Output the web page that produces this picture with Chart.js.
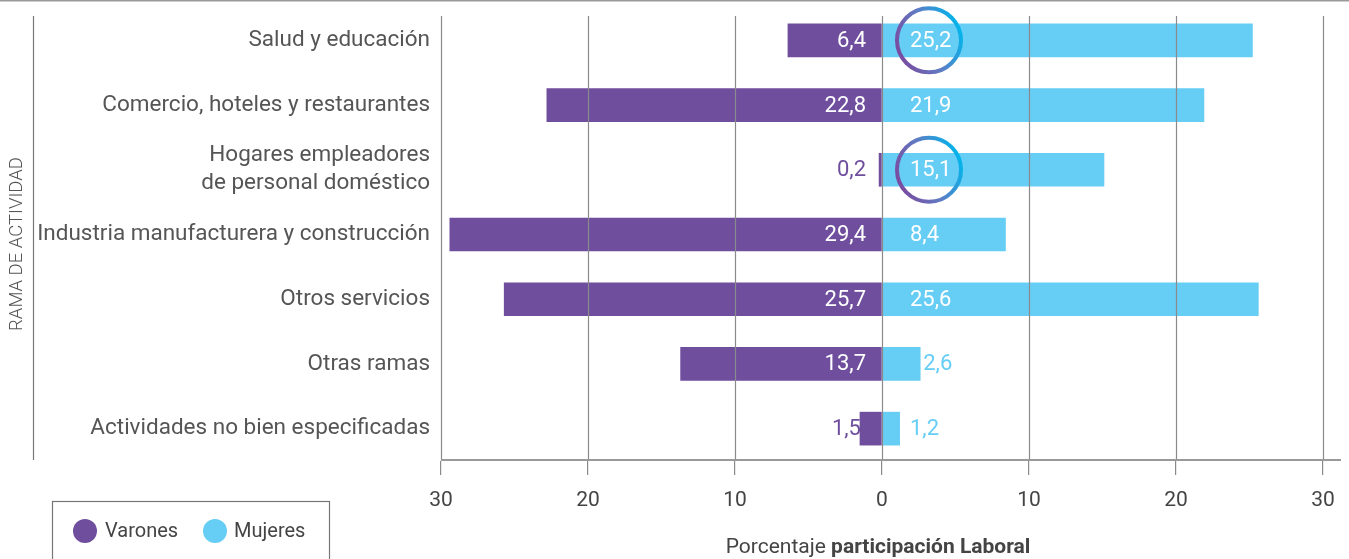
<!DOCTYPE html>
<html><head><meta charset="utf-8">
<script src="https://cdn.jsdelivr.net/npm/chart.js@4"></script>
<style>html,body{margin:0;padding:0;background:#fff;overflow:hidden}#wrap{position:relative;width:1349px;height:559px}</style>
</head><body><div id="wrap"><canvas id="c" width="1349" height="559"></canvas></div>
<script>
const categories = [
  ["Salud y educación"],
  ["Comercio, hoteles y restaurantes"],
  ["Hogares empleadores", "de personal doméstico"],
  ["Industria manufacturera y construcción"],
  ["Otros servicios"],
  ["Otras ramas"],
  ["Actividades no bien especificadas"]
];
const varones = [6.4, 22.8, 0.2, 29.4, 25.7, 13.7, 1.5];
const mujeres = [25.2, 21.9, 15.1, 8.4, 25.6, 2.6, 1.2];
const xTickValues = [-30, -20, -10, 0, 10, 20, 30];
const highlighted = [0, 2];
const seriesNames = ["Varones", "Mujeres"];
const axisTitleNormal = "Porcentaje ";
const axisTitleBold = "participación Laboral";
const yAxisTitle = "RAMA DE ACTIVIDAD";

const PURPLE = "#6f4e9e";
const CYAN = "#66cdf5";
const FONT = "Roboto, 'Noto Sans', sans-serif";
const fmt = v => v.toFixed(1).replace(".", ",");

const decor = {
  id: "decor",
  afterDatasetsDraw(chart) {
    const ctx = chart.ctx, xs = chart.scales.x, ys = chart.scales.y, ca = chart.chartArea;
    ctx.save();
    // gridlines
    ctx.strokeStyle = "#8a8a8a"; ctx.lineWidth = 1.2;
    xTickValues.forEach(v => {
      const x = Math.round(xs.getPixelForValue(v)) + 0.5;
      ctx.beginPath(); ctx.moveTo(x, 16); ctx.lineTo(x, ca.bottom); ctx.stroke();
    });
    // axis line
    ctx.strokeStyle = "#999"; ctx.lineWidth = 2;
    ctx.beginPath(); ctx.moveTo(xs.getPixelForValue(-30), 460); ctx.lineTo(1341, 460); ctx.stroke();
    // left frame line
    ctx.strokeStyle = "#777"; ctx.lineWidth = 1.2;
    ctx.beginPath(); ctx.moveTo(33.5, 16); ctx.lineTo(33.5, 460); ctx.stroke();
    // top line
    ctx.strokeStyle = "#999"; ctx.lineWidth = 2;
    ctx.beginPath(); ctx.moveTo(0, 0.5); ctx.lineTo(1349, 0.5); ctx.stroke();

    // y axis title
    ctx.save();
    ctx.translate(17, 244); ctx.rotate(-Math.PI / 2);
    ctx.font = "300 18.5px " + FONT; ctx.fillStyle = "#555";
    ctx.textAlign = "center"; ctx.textBaseline = "middle";
    ctx.fillText(yAxisTitle, 0, 0);
    ctx.restore();

    // value labels
    const zero = xs.getPixelForValue(0);
    ctx.font = "22px " + FONT; ctx.textBaseline = "middle";
    categories.forEach((c, i) => {
      const y = ys.getPixelForValue(i) + 1;
      // men
      let t = fmt(varones[i]); let w = ctx.measureText(t).width;
      const mStart = xs.getPixelForValue(-varones[i]);
      const mLen = zero - mStart;
      ctx.textAlign = "right";
      if (mLen > 16 + w) { ctx.fillStyle = "#fff"; ctx.fillText(t, zero - 16, y); }
      else { ctx.fillStyle = PURPLE; ctx.fillText(t, Math.min(zero - 16, mStart + 1), y); }
      // women
      t = fmt(mujeres[i]); w = ctx.measureText(t).width;
      const fEnd = xs.getPixelForValue(mujeres[i]);
      const fLen = fEnd - zero;
      ctx.textAlign = "left";
      if (fLen > 28 + w) { ctx.fillStyle = "#fff"; ctx.fillText(t, zero + 28, y); }
      else { ctx.fillStyle = CYAN; ctx.fillText(t, Math.max(zero + 28, fEnd + 3), y); }
    });
    // highlight rings
    highlighted.forEach(i => {
      const cx = zero + 47, cy = ys.getPixelForValue(i), r = 32;
      const g = ctx.createLinearGradient(cx - r, cy + r * 0.4, cx + r, cy - r * 0.4);
      g.addColorStop(0, "#7a4a9f"); g.addColorStop(0.5, "#5f7cc4"); g.addColorStop(1, "#00b6ec");
      ctx.strokeStyle = g; ctx.lineWidth = 4;
      ctx.beginPath(); ctx.arc(cx, cy, r, 0, Math.PI * 2); ctx.stroke();
    });

    // x axis title (mixed weight)
    ctx.textAlign = "left"; ctx.textBaseline = "middle"; ctx.fillStyle = "#444";
    ctx.font = "21px " + FONT; const w1 = ctx.measureText(axisTitleNormal).width;
    ctx.font = "bold 21px " + FONT; const w2 = ctx.measureText(axisTitleBold).width;
    const sx = 878 - (w1 + w2) / 2;
    ctx.font = "21px " + FONT; ctx.fillText(axisTitleNormal, sx, 548);
    ctx.font = "bold 21px " + FONT; ctx.fillText(axisTitleBold, sx + w1, 548);

    // legend
    ctx.strokeStyle = "#777"; ctx.lineWidth = 1.2;
    ctx.strokeRect(52.5, 501.5, 277, 70);
    const items = [[85, PURPLE, seriesNames[0], 105], [215, CYAN, seriesNames[1], 234]];
    ctx.font = "20px " + FONT;
    items.forEach(([x, col, txt, tx]) => {
      ctx.fillStyle = col; ctx.beginPath(); ctx.arc(x, 531, 12, 0, Math.PI * 2); ctx.fill();
      ctx.fillStyle = "#444"; ctx.fillText(txt, tx, 532);
    });
    ctx.restore();
  }
};

new Chart(document.getElementById("c"), {
  type: "bar",
  data: {
    labels: categories,
    datasets: [
      { label: seriesNames[0], data: varones.map(v => -v), backgroundColor: PURPLE, barThickness: 33 },
      { label: seriesNames[1], data: mujeres, backgroundColor: CYAN, barThickness: 33 }
    ]
  },
  options: {
    indexAxis: "y",
    responsive: false,
    animation: false,
    layout: { padding: { top: 8, right: 26, left: 0, bottom: 0 } },
    plugins: { legend: { display: false }, tooltip: { enabled: false } },
    scales: {
      x: {
        type: "linear", stacked: true, min: -30, max: 30,
        afterBuildTicks: s => { s.ticks = xTickValues.map(v => ({ value: v })); },
        ticks: { callback: v => Math.abs(v), font: { family: FONT, size: 21 }, color: "#444", padding: 13, maxRotation: 0 },
        grid: { drawOnChartArea: false, drawTicks: true, tickLength: 14, color: "#8a8a8a", lineWidth: 1.2 },
        border: { display: false },
        afterFit: s => { s.height = 98; }
      },
      y: {
        type: "category", stacked: true,
        grid: { display: false }, border: { display: false },
        ticks: { font: { family: FONT, size: 22.5, lineHeight: 1.25 }, color: "#555", padding: 3 },
        title: { display: false },
        afterFit: s => { s.width = 441; s.paddingTop = 0; s.paddingBottom = 0; }
      }
    }
  },
  plugins: [decor]
});
</script>
</body></html>
